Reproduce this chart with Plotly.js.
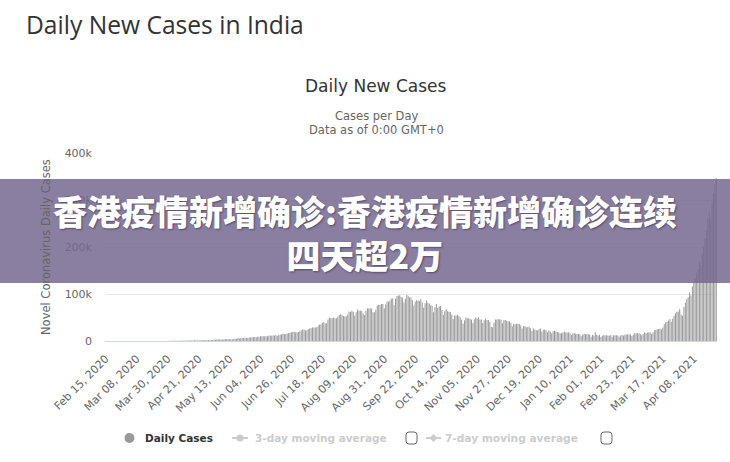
<!DOCTYPE html>
<html><head><meta charset="utf-8">
<script src="https://cdn.plot.ly/plotly-3.0.1.min.js"></script>
<style>html,body{margin:0;padding:0;background:#fff;overflow:hidden}#chart{width:730px;height:462px}</style>
</head><body><div id="chart"></div>
<script>
// ---- data (daily new cases, India) ----
const startYear = 2020, startMonthIndex = 1, startDay = 15; // Feb 15, 2020
const cases_2020_02 = [0,0,0,0,0,0,0,0,0,0,0,0,0,0,0];
const cases_2020_03 = [0,2,1,22,2,1,3,5,4,6,6,11,9,20,11,6,23,14,38,50,86,66,103,37,121,70,160,100,112,227,146];
const cases_2020_04 = [601,545,478,525,505,704,508,485,591,896,768,918,705,1463,1034,835,1108,1893,924,1541,1290,1707,1561,1989,1396,1606,1543,1897,1718,1993];
const cases_2020_05 = [2293,2644,2952,3656,2971,3587,3364,3344,3113,4353,3607,3524,3763,3942,3787,4864,5050,4630,6147,5553,6198,6568,6629,7111,6387,6535,7467,7298,7964,8380,8392];
const cases_2020_06 = [8171,8909,9304,9851,9887,9971,9983,9987,9985,11458,11929,10956,11502,11929,12881,10667,12881,13586,14516,15413,14821,14933,15968,16922,17296,18552,19906,19459,18522,18653];
const cases_2020_07 = [19148,20903,22771,24850,24248,22252,22752,24879,26506,27114,28637,28701,28498,29429,32695,34956,34884,38902,40425,37148,37724,45720,49310,48916,48661,49931,47703,48513,52123,55078,57118];
const cases_2020_08 = [54735,52972,52050,52509,56282,62538,61537,64399,62064,53601,60963,66999,64553,65002,63490,57981,55079,64531,69652,68898,69878,69239,61408,60975,67151,75760,77266,76472,78761,78512,69921];
const cases_2020_09 = [78357,83883,83341,86432,90632,90802,75809,89706,95735,96551,97570,94372,92071,81911,90123,97894,96424,93337,92605,86961,75083,83347,86508,86052,85362,88600,82170,70589,80472,86821];
const cases_2020_10 = [81484,79476,75829,74442,61267,72049,78524,70496,73272,74383,66732,55342,63509,67708,63371,62212,61871,55722,46790,54044,54044,55839,53370,50129,45149,36469,43893,49881,48648,48268,46963];
const cases_2020_11 = [45231,38310,46253,50210,47638,50357,45674,45903,38074,44281,47905,44879,44684,41100,30548,29163,38617,45576,45882,46232,46232,45209,37975,44376,44489,43082,41322,41810,38772,31118];
const cases_2020_12 = [36604,35551,36595,36652,36011,32981,26567,32080,31521,29398,30006,30254,27071,22065,26382,24010,22890,22889,25152,26624,19556,23950,24712,23068,18732,22273,20021,16432,20550,21822,20035];
const cases_2021_01 = [19079,18177,16505,16375,18088,20346,18139,18222,18645,16311,12584,15968,16946,15590,15158,15144,13788,10050,13823,15223,14545,14256,14849,13203,9102,12689,11666,18855,13083,11698,13052];
const cases_2021_02 = [8635,11039,12899,11713,12408,11831,11067,12923,9093,12059,12143,12194,11649,9121,11610,12881,11610,13193,13993,14264,13993,14199,10584,13742,16738,16577,16752,16488];
const cases_2021_03 = [15510,12286,14989,17407,16838,18327,18711,18599,15388,17921,22854,23285,24882,25320,26291,24492,28903,35871,39726,40953,43846,46951,40715,47262,53476,59118,62258,62714,68020,56211,53480];
const cases_2021_04 = [72330,81466,89129,93249,103558,96982,115736,126789,131968,145384,152879,168912,161736,184372,200739,217353,234692,261500,273810,259170,295041,314835,332730,346786];

const yTickVals = [0,100000,200000,300000,400000];
const yTickText = ['0','100k','200k','300k','400k'];
const xTickEvery = 22;
const monthNames = ['Jan','Feb','Mar','Apr','May','Jun','Jul','Aug','Sep','Oct','Nov','Dec'];

const dailyCases = [].concat(cases_2020_02,cases_2020_03,cases_2020_04,cases_2020_05,cases_2020_06,
  cases_2020_07,cases_2020_08,cases_2020_09,cases_2020_10,cases_2020_11,cases_2020_12,
  cases_2021_01,cases_2021_02,cases_2021_03,cases_2021_04);

const dates = dailyCases.map((_, i) => {
  const d = new Date(Date.UTC(startYear, startMonthIndex, startDay + i));
  return monthNames[d.getUTCMonth()] + ' ' + String(d.getUTCDate()).padStart(2,'0') + ', ' + d.getUTCFullYear();
});
const tickDates = dates.filter((_, i) => i % xTickEvery === 0);

// ---- layout helpers (pixel -> paper) ----
const W = 730, H = 462, L = 105, R = 13, T = 153, B = 121;
const PW = W - L - R, PH = H - T - B;
const px = x => (x - L) / PW;
const py = y => (H - B - y) / PH;

const trace = {
  type: 'bar', x: dates, y: dailyCases,
  marker: {color: '#999999', line: {width: 0}},
  hoverinfo: 'skip'
};

function ann(text, x, y, opts) {
  return Object.assign({text: text, xref: 'paper', yref: 'paper', x: px(x), y: py(y),
    showarrow: false, xanchor: 'center', yanchor: 'middle'}, opts || {});
}

const annotations = [
  ann('Daily New Cases in India', 24, 25, {xanchor: 'left', font: {family: 'Open Sans, sans-serif', size: 24.6, color: '#333333'}}),
  ann('Daily New Cases', 376, 86, {font: {family: 'DejaVu Sans, sans-serif', size: 17, color: '#333333'}}),
  ann('Cases per Day', 376, 116, {font: {family: 'DejaVu Sans, sans-serif', size: 11.5, color: '#666666'}}),
  ann('Data as of 0:00 GMT+0', 376, 130, {font: {family: 'DejaVu Sans, sans-serif', size: 11.5, color: '#666666'}}),
  ann('Novel Coronavirus Daily Cases', 46, 247, {textangle: -90, font: {family: 'DejaVu Sans, sans-serif', size: 11.5, color: '#666666'}}),
  ann('Daily Cases', 143, 438, {xanchor: 'left', font: {family: 'DejaVu Sans, sans-serif', size: 10.5, color: '#333333', weight: 'bold'}}),
  ann('3-day moving average', 253, 438, {xanchor: 'left', font: {family: 'DejaVu Sans, sans-serif', size: 10.5, color: '#cccccc', weight: 'bold'}}),
  ann('7-day moving average', 443, 438, {xanchor: 'left', font: {family: 'DejaVu Sans, sans-serif', size: 10.6, color: '#cccccc', weight: 'bold'}}),
  ann('香港疫情新增确诊:香港疫情新增确诊连续<br>四天超2万', 365, 232, {font: {family: 'Noto Sans CJK SC, sans-serif', size: 34, color: '#ffffff', weight: 900, shadow: '1px 1px 2px rgba(50,40,70,0.6)'}})
];

function rectPx(x0, y0, x1, y1, o) {
  return Object.assign({type: 'rect', xref: 'paper', yref: 'paper', x0: px(x0), x1: px(x1), y0: py(y1), y1: py(y0)}, o);
}
function roundBox(x0, y0, x1, y1, r) {
  const X = v => px(v), Y = v => py(v);
  return {type: 'path', xref: 'paper', yref: 'paper', layer: 'above',
    line: {color: '#666666', width: 1}, fillcolor: 'rgba(0,0,0,0)',
    path: `M${X(x0+r)},${Y(y0)} L${X(x1-r)},${Y(y0)} Q${X(x1)},${Y(y0)} ${X(x1)},${Y(y0+r)} L${X(x1)},${Y(y1-r)} Q${X(x1)},${Y(y1)} ${X(x1-r)},${Y(y1)} L${X(x0+r)},${Y(y1)} Q${X(x0)},${Y(y1)} ${X(x0)},${Y(y1-r)} L${X(x0)},${Y(y0+r)} Q${X(x0)},${Y(y0)} ${X(x0+r)},${Y(y0)} Z`};
}

const shapes = [
  rectPx(0, 179, 730, 283, {layer: 'above', fillcolor: 'rgba(117,105,143,0.85)', line: {width: 0}}),
  {type: 'circle', xref: 'paper', yref: 'paper', x0: px(124.5), x1: px(134.5), y0: py(443), y1: py(433), fillcolor: '#999999', line: {width: 0}},
  {type: 'line', xref: 'paper', yref: 'paper', x0: px(232), x1: px(248), y0: py(438), y1: py(438), line: {color: '#cccccc', width: 2}},
  {type: 'circle', xref: 'paper', yref: 'paper', x0: px(236.5), x1: px(243.5), y0: py(441.5), y1: py(434.5), fillcolor: '#cccccc', line: {width: 0}},
  {type: 'line', xref: 'paper', yref: 'paper', x0: px(426), x1: px(441), y0: py(438), y1: py(438), line: {color: '#cccccc', width: 2}},
  {type: 'path', xref: 'paper', yref: 'paper', fillcolor: '#cccccc', line: {width: 0},
    path: `M${px(433.5)},${py(434)} L${px(437.5)},${py(438)} L${px(433.5)},${py(442)} L${px(429.5)},${py(438)} Z`},
  roundBox(406, 432, 417, 444, 3),
  roundBox(601, 432, 612, 444, 3)
];

const layout = {
  width: W, height: H,
  margin: {l: L, r: R, t: T, b: B, pad: 0},
  paper_bgcolor: '#ffffff', plot_bgcolor: '#ffffff',
  showlegend: false, bargap: 0.3,
  font: {family: 'DejaVu Sans, sans-serif', color: '#666666'},
  xaxis: {type: 'category', range: [-0.5, dates.length - 0.5], tickmode: 'array',
    tickvals: tickDates, ticktext: tickDates, tickangle: -45,
    tickfont: {size: 11, color: '#666666'}, showgrid: false, showline: true,
    linecolor: '#ccd6eb', linewidth: 1, ticks: '', ticklabelstandoff: 6, fixedrange: true, automargin: false},
  yaxis: {range: [0, 400000], tickmode: 'array', tickvals: yTickVals, ticktext: yTickText,
    tickfont: {size: 11, color: '#666666'}, gridcolor: '#e6e6e6', gridwidth: 1,
    zeroline: false, showline: false, ticks: '', ticklabelstandoff: 12, automargin: false, fixedrange: true},
  annotations: annotations,
  shapes: shapes
};

Plotly.newPlot('chart', [trace], layout, {staticPlot: true, displayModeBar: false});
</script></body></html>
